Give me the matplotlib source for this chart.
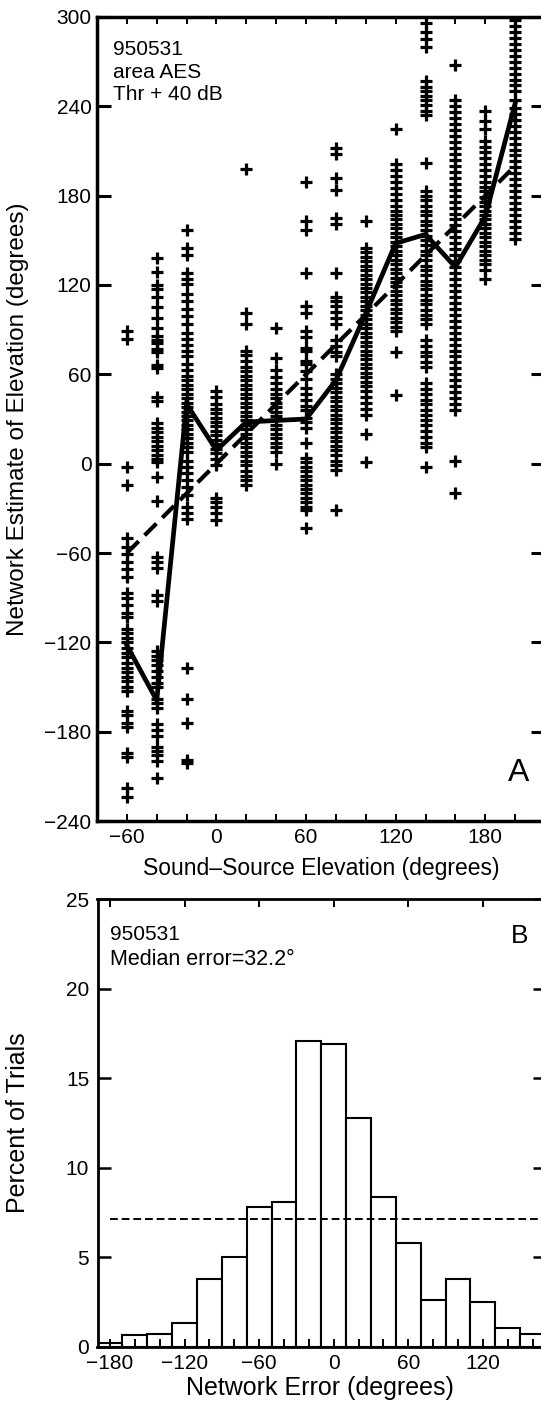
import numpy as np
import matplotlib.pyplot as plt
from matplotlib.ticker import MultipleLocator, FixedLocator

plt.rcParams['font.family'] = ['Liberation Sans', 'DejaVu Sans']

# ---- panel A: network estimate per sound-source elevation (degrees) ----
elevations = [-60, -40, -20, 0, 20, 40, 60, 80, 100, 120, 140, 160, 180, 200]

est_m60 = [89, 84, -2, -14, -50, -56, -61, -66, -71, -76, -87, -90, -95, -100, -103,
           -111, -114, -117, -120, -124, -127, -130, -134, -137, -140, -143, -146,
           -150, -153, -166, -169, -174, -177, -194, -197, -218, -224]
est_m40 = [138, 129, 120, 117, 112, 105, 98, 91, 86, 83, 81, 77, 75, 66, 64, 45, 42,
           27, 24, 21, 18, 15, 12, 9, 6, 3, 1, -9, -25, -63, -66, -70, -88, -92,
           -126, -129, -132, -135, -139, -143, -147, -150, -158, -161, -164, -175,
           -179, -183, -190, -193, -196, -200, -211]
est_m20 = [157, 145, 140, 128, 124, 121, 114, 109, 104, 99, 94, 88, 84, 80, 76, 72,
           67, 63, 59, 56, 53, 50, 47, 44, 41, 38, 35, 32, 29, 26, 23, 20, 17, 14,
           11, 8, 2, -2, -6, -11, -16, -21, -29, -33, -37, -137, -158, -174, -199, -201]
est_0 = [49, 45, 40, 37, 34, 31, 28, 25, 22, 19, 16, 13, 10, 7, 3, -1,
         -23, -26, -29, -33, -38]
est_20 = [198, 101, 94, 76, 73, 69, 65, 62, 59, 56, 53, 50, 47, 44, 41, 38, 35, 32,
          29, 26, 23, 20, 17, 14, 11, 8, 5, 2, -1, -5, -8, -11, -14]
est_40 = [91, 71, 63, 58, 54, 50, 47, 44, 41, 38, 35, 32, 29, 26, 23, 20, 17, 14,
          11, 8, 0]
est_60 = [189, 163, 157, 128, 106, 101, 89, 85, 78, 76, 69, 67, 62, 57, 51, 47, 43,
          39, 36, 31, 28, 24, 14, 4, 1, -2, -5, -8, -11, -14, -17, -20, -23, -26,
          -29, -31, -43]
est_80 = [212, 208, 192, 184, 165, 161, 128, 112, 109, 106, 102, 98, 94, 83, 79, 75,
          72, 60, 57, 54, 51, 48, 45, 42, 39, 36, 33, 30, 27, 24, 21, 18, 15, 12,
          9, 6, 2, -1, -4, -31]
est_100 = [163, 145, 142, 139, 136, 133, 130, 127, 124, 121, 118, 115, 112, 109, 106,
           103, 100, 97, 94, 91, 88, 85, 82, 79, 76, 73, 70, 67, 64, 61, 58, 55, 52,
           49, 45, 41, 37, 33, 20, 1]
est_120 = [225, 201, 197, 193, 189, 185, 181, 177, 173, 170, 167, 164, 161, 158, 155,
           152, 149, 146, 143, 140, 137, 134, 131, 128, 125, 122, 119, 116, 113, 110,
           107, 104, 101, 98, 95, 92, 89, 75, 46]
est_140 = [296, 290, 285, 280, 257, 253, 250, 247, 244, 241, 237, 234, 202, 183, 180,
           177, 173, 170, 167, 163, 160, 157, 153, 150, 147, 143, 140, 137, 133, 130,
           127, 123, 120, 117, 113, 110, 107, 103, 100, 97, 94, 83, 79, 75, 72, 68,
           65, 54, 50, 47, 43, 40, 36, 33, 29, 26, 22, 18, 14, 11, -2]
est_160 = [268, 244, 240, 236, 232, 228, 224, 220, 216, 212, 208, 204, 200, 196, 192,
           188, 184, 180, 176, 172, 168, 164, 160, 156, 152, 148, 144, 140, 136, 132,
           128, 124, 120, 116, 112, 108, 104, 100, 96, 92, 88, 84, 80, 76, 72, 68,
           64, 60, 56, 52, 48, 44, 40, 36, 2, -20]
est_180 = [237, 230, 225, 217, 213, 209, 205, 201, 197, 193, 189, 186, 183, 179, 176,
           173, 170, 167, 164, 161, 158, 155, 152, 149, 146, 143, 140, 137, 134, 130, 124]
est_200 = [298, 294, 290, 286, 282, 278, 274, 270, 266, 262, 258, 254, 250, 244, 239,
           235, 231, 227, 223, 219, 215, 211, 207, 203, 199, 195, 191, 187, 183, 179,
           175, 171, 167, 163, 159, 155, 151]

estimates = [est_m60, est_m40, est_m20, est_0, est_20, est_40, est_60, est_80,
             est_100, est_120, est_140, est_160, est_180, est_200]

median_est = [-122, -159, 40, 9, 28, 29, 30, 56, 101, 148, 154, 132, 166, 242]
ideal_x = [-60, 200]
ideal_y = [-60, 200]

# ---- panel B: histogram of network error ----
err_centers = [-180, -160, -140, -120, -100, -80, -60, -40, -20, 0, 20, 40, 60, 80,
               100, 120, 140, 160]
err_percent = [0.25, 0.65, 0.75, 1.35, 3.8, 5.0, 7.8, 8.1, 17.1, 16.9, 12.8, 8.35,
               5.8, 2.65, 3.8, 2.5, 1.05, 0.75]
chance_x = [-180, 170]
chance_pct = [7.15, 7.15]

W, H = 541, 1402
fig = plt.figure(figsize=(W / 100, H / 100), dpi=100)


def box(l, t, r, b):
    return [l / W, 1 - b / H, (r - l) / W, (b - t) / H]


def fx(px):
    return px / W


def fy(py):
    return 1 - py / H


# panel A
axA = fig.add_axes(box(97, 17, 545, 821))
for elev, ys in zip(elevations, estimates):
    axA.plot(np.full(len(ys), elev), ys, '+', color='black', ms=9, mew=2.3)
axA.plot(ideal_x, ideal_y, color='black', lw=3, ls=(0, (4, 2)))
axA.plot(elevations, median_est, color='black', lw=3.4, solid_joinstyle='miter')
axA.set_xlim(-80, 220)
axA.set_ylim(-240, 300)
axA.xaxis.set_major_locator(FixedLocator([-60, 0, 60, 120, 180]))
axA.xaxis.set_minor_locator(MultipleLocator(20))
axA.yaxis.set_major_locator(MultipleLocator(60))
axA.tick_params(axis='x', which='both', direction='in', length=5, width=1.4,
                top=True, bottom=True, labelsize=15, pad=5)
axA.tick_params(axis='y', direction='in', length=10, width=2.2, left=True,
                right=True, labelsize=15, pad=4)
for s in axA.spines.values():
    s.set_linewidth(2.5)

fig.text(fx(113), fy(55), '950531', fontsize=15, va='baseline')
fig.text(fx(113), fy(77.5), 'area AES', fontsize=15, va='baseline')
fig.text(fx(113), fy(100), 'Thr + 40 dB', fontsize=15, va='baseline')
fig.text(fx(518.5), fy(781), 'A', fontsize=23, ha='center', va='baseline')
fig.text(fx(18), fy(419), 'Network Estimate of Elevation (degrees)', fontsize=17.5,
         rotation=90, ha='center', va='center')
fig.text(fx(321), fy(868), 'Sound\u2013Source Elevation (degrees)', fontsize=16.5,
         ha='center', va='center')

# panel B
axB = fig.add_axes(box(97.5, 899, 545, 1347))
axB.bar(err_centers, err_percent, width=20, color='white', edgecolor='black',
        linewidth=1.5)
axB.plot(chance_x, chance_pct, color='black', lw=1.4, ls=(0, (4, 2)))
axB.set_xlim(-190, 170)
axB.set_ylim(0, 25)
axB.xaxis.set_major_locator(FixedLocator([-180, -120, -60, 0, 60, 120]))
axB.xaxis.set_minor_locator(MultipleLocator(20))
axB.yaxis.set_major_locator(MultipleLocator(5))
axB.tick_params(axis='x', which='both', direction='in', length=6, width=1.4,
                top=True, bottom=True, labelsize=15, pad=5)
axB.tick_params(axis='x', which='minor', top=False)
axB.tick_params(axis='y', direction='in', length=9, width=1.8, left=True,
                right=True, labelsize=15, pad=6)
for s in axB.spines.values():
    s.set_linewidth(2)

fig.text(fx(110), fy(940), '950531', fontsize=15, va='baseline')
fig.text(fx(110), fy(965), 'Median error=32.2\u00b0', fontsize=15.5, va='baseline')
fig.text(fx(520), fy(943), 'B', fontsize=19, ha='center', va='baseline')
fig.text(fx(18), fy(1123), 'Percent of Trials', fontsize=18, rotation=90,
         ha='center', va='center')
fig.text(fx(320), fy(1388), 'Network Error (degrees)', fontsize=18,
         ha='center', va='center')

fig.savefig('out.png', dpi=100)
